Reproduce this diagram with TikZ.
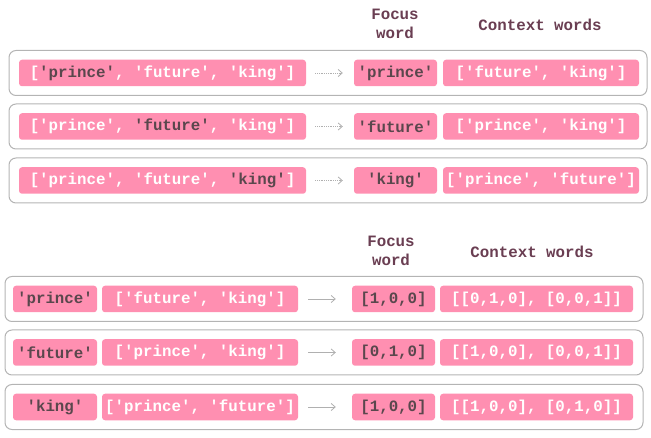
\documentclass[tikz,border=0pt]{standalone}
\usepackage{fontspec}
\setmonofont{Liberation Mono}
\usepackage{tikz}
\usetikzlibrary{arrows.meta}

\definecolor{pinkbox}{HTML}{FF8FB1}
\definecolor{ink}{HTML}{5A474D}
\definecolor{headink}{HTML}{6A3E52}
\definecolor{rowline}{HTML}{B4B4B4}
\definecolor{arrowgray}{HTML}{B0B0B0}

\tikzset{
  pair/.style={draw=rowline, line width=1pt, rounded corners=7pt, minimum height=45pt, inner sep=0pt},
  tag/.style={fill=pinkbox, rounded corners=3pt, minimum height=26.5pt, inner sep=0pt, text=white,
    font=\ttfamily\bfseries\fontsize{15.8}{18}\selectfont},
  focustag/.style={tag, text=ink},
  head/.style={text=headink, align=center, font=\ttfamily\bfseries\fontsize{15.8}{19}\selectfont},
  dotarrow/.style={arrowgray, densely dotted, line width=0.8pt, -{Straight Barb[length=4pt,width=7pt]}},
  linearrow/.style={arrowgray, line width=0.8pt, -{Straight Barb[length=4pt,width=7pt]}},
}

\begin{document}
\begin{tikzpicture}[x=1pt, y=-1pt]
    \useasboundingbox (0,0) rectangle (651,438);
    % words
    \node[head] (focushead) at (395,23.5) {Focus\\word};
    \node[head] (contexthead) at (540,25) {Context words};
    \node[pair, minimum width=638pt] (pairA) at (328,73) {};
    \node[pair, minimum width=638pt] (pairB) at (328,126.5) {};
    \node[pair, minimum width=638pt] (pairC) at (328,180.5) {};
    \node[tag, minimum width=287pt] (listA) at (162.5,73) {[\textcolor{ink}{'prince'}, 'future', 'king']};
    \node[tag, minimum width=287pt] (listB) at (162.5,126.5) {['prince', \textcolor{ink}{'future'}, 'king']};
    \node[tag, minimum width=287pt] (listC) at (162.5,180.5) {['prince', 'future', \textcolor{ink}{'king'}]};
    \node[focustag, minimum width=83pt] (focusA) at (395.5,73) {'prince'};
    \node[focustag, minimum width=83pt] (focusB) at (395.5,126.5) {'future'};
    \node[focustag, minimum width=83pt] (focusC) at (395.5,180.5) {'king'};
    \node[tag, minimum width=196pt] (contextA) at (541,73) {['future', 'king']};
    \node[tag, minimum width=196pt] (contextB) at (541,126.5) {['prince', 'king']};
    \node[tag, minimum width=196pt] (contextC) at (541,180.5) {['prince', 'future']};
    \draw [dotarrow, shorten <=9pt, shorten >=11pt] (listA) -- (focusA);
    \draw [dotarrow, shorten <=9pt, shorten >=11pt] (listB) -- (focusB);
    \draw [dotarrow, shorten <=9pt, shorten >=11pt] (listC) -- (focusC);
    % vectors
    \node[head] (vecfocushead) at (391,250.5) {Focus\\word};
    \node[head] (veccontexthead) at (532,252) {Context words};
    \node[pair, minimum width=638pt] (vpairA) at (324,299) {};
    \node[pair, minimum width=638pt] (vpairB) at (324,352.5) {};
    \node[pair, minimum width=638pt] (vpairC) at (324,407) {};
    \node[focustag, minimum width=84pt] (wordA) at (55,299) {'prince'};
    \node[focustag, minimum width=84pt] (wordB) at (55,352.5) {'future'};
    \node[focustag, minimum width=84pt] (wordC) at (55,407) {'king'};
    \node[tag, minimum width=196pt] (wordsA) at (200,299) {['future', 'king']};
    \node[tag, minimum width=196pt] (wordsB) at (200,352.5) {['prince', 'king']};
    \node[tag, minimum width=196pt] (wordsC) at (200,407) {['prince', 'future']};
    \node[focustag, minimum width=83pt] (vecA) at (393.5,299) {[1,0,0]};
    \node[focustag, minimum width=83pt] (vecB) at (393.5,352.5) {[0,1,0]};
    \node[focustag, minimum width=83pt] (vecC) at (393.5,407) {[1,0,0]};
    \node[tag, minimum width=193pt] (vecsA) at (536.5,299) {[[0,1,0], [0,0,1]]};
    \node[tag, minimum width=193pt] (vecsB) at (536.5,352.5) {[[1,0,0], [0,0,1]]};
    \node[tag, minimum width=193pt] (vecsC) at (536.5,407) {[[1,0,0], [0,1,0]]};
    \draw [linearrow, shorten <=10pt, shorten >=16pt] (wordsA) -- (vecA);
    \draw [linearrow, shorten <=10pt, shorten >=16pt] (wordsB) -- (vecB);
    \draw [linearrow, shorten <=10pt, shorten >=16pt] (wordsC) -- (vecC);
\end{tikzpicture}
\end{document}
